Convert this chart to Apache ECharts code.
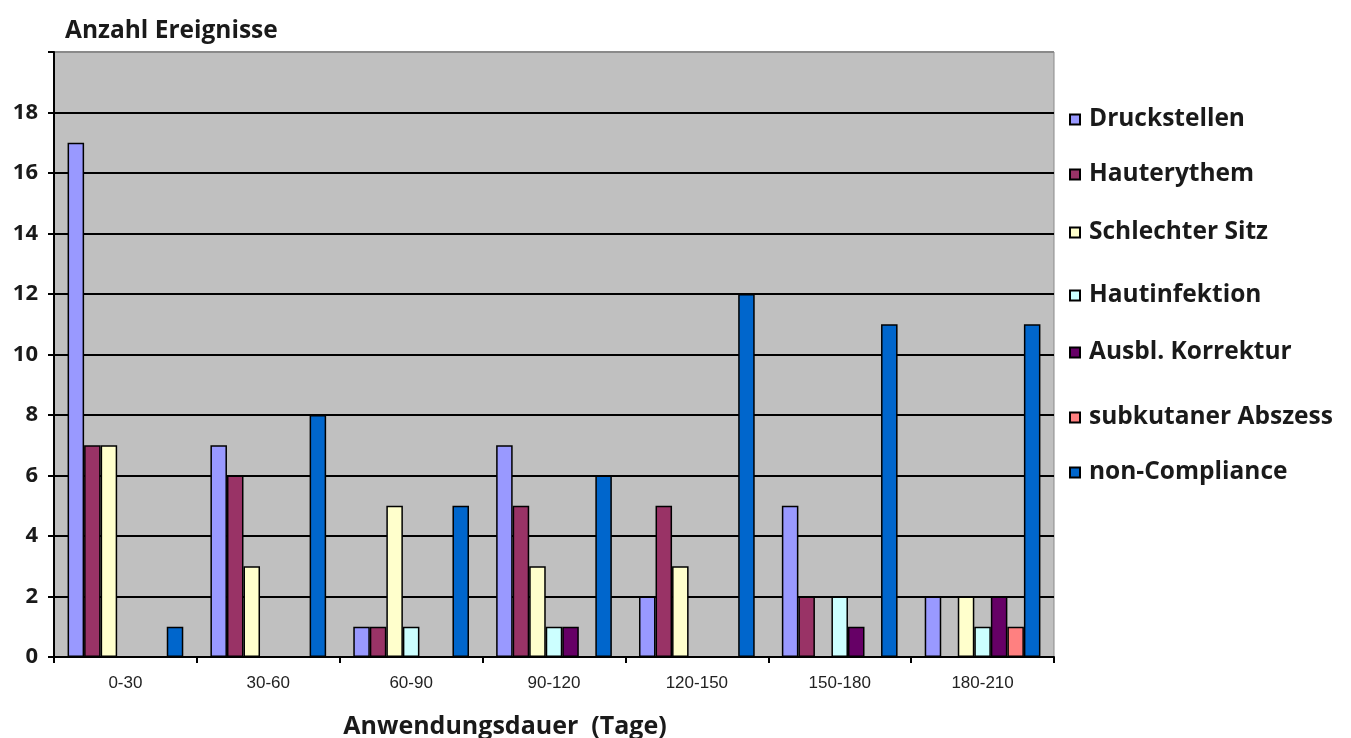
<!DOCTYPE html>
<html>
<head>
<meta charset="utf-8">
<script src="https://cdn.jsdelivr.net/npm/echarts@6/dist/echarts.min.js"></script>
<style>
  html, body { margin: 0; padding: 0; background: #ffffff; }
  #chart { width: 1351px; height: 738px; }
</style>
</head>
<body>
<div id="chart"></div>
<script>
// ---- data ----
const categories = ['0-30', '30-60', '60-90', '90-120', '120-150', '150-180', '180-210'];
const seriesNames = ['Druckstellen', 'Hauterythem', 'Schlechter Sitz', 'Hautinfektion', 'Ausbl. Korrektur', 'subkutaner Abszess', 'non-Compliance'];
const druckstellen      = [17, 7, 1, 7, 2, 5, 2];
const hauterythem       = [7, 6, 1, 5, 5, 2, 0];
const schlechterSitz    = [7, 3, 5, 3, 3, 0, 2];
const hautinfektion     = [0, 0, 1, 1, 0, 2, 1];
const ausblKorrektur    = [0, 0, 0, 1, 0, 1, 2];
const subkutanerAbszess = [0, 0, 0, 0, 0, 0, 1];
const nonCompliance     = [1, 8, 5, 6, 12, 11, 11];
const yTickLabels = ['0', '2', '4', '6', '8', '10', '12', '14', '16', '18'];

const seriesValues = [druckstellen, hauterythem, schlechterSitz, hautinfektion, ausblKorrektur, subkutanerAbszess, nonCompliance];
const colors = ['#9999FF', '#993366', '#FFFFCC', '#CCFFFF', '#660066', '#FF8080', '#0066CC'];

const legendTops = [102, 157, 215, 278, 335, 400, 455];
const FONT = 'Open Sans';

const chart = echarts.init(document.getElementById('chart'), null, { renderer: 'canvas' });

const option = {
  backgroundColor: '#ffffff',
  animation: false,
  title: {
    text: 'Anzahl Ereignisse',
    left: 60,
    top: 14,
    textStyle: { fontFamily: FONT, fontWeight: 'bold', fontSize: 24.5, color: '#1a1a1a' }
  },
  legend: seriesNames.map((n, i) => ({
    data: [n],
    orient: 'vertical',
    left: 1064,
    top: legendTops[i],
    icon: 'rect',
    itemWidth: 10,
    itemHeight: 10,
    itemGap: 0,
    selectedMode: false,
    textStyle: { fontFamily: FONT, fontWeight: 'bold', fontSize: 24.5, color: '#1a1a1a', padding: [0, 0, 0, 4] }
  })),
  grid: {
    left: 54, right: 297, top: 52, bottom: 81,
    outerBoundsMode: 'none',
    containLabel: false,
    show: true,
    backgroundColor: '#C0C0C0',
    borderColor: '#8a8a8a',
    borderWidth: 1
  },
  xAxis: {
    type: 'category',
    data: categories,
    name: 'Anwendungsdauer  (Tage)',
    nameLocation: 'middle',
    nameGap: 57,
    nameTextStyle: { fontFamily: FONT, fontWeight: 'bold', fontSize: 25, color: '#1a1a1a', padding: [0, 98, 0, 0] },
    axisLine: { show: true, lineStyle: { color: '#000', width: 2 } },
    axisTick: { show: true, alignWithLabel: false, length: 6, lineStyle: { color: '#000', width: 2 } },
    axisLabel: { fontFamily: 'Liberation Sans', fontSize: 17, color: '#222', margin: 18 },
    splitLine: { show: false }
  },
  yAxis: {
    type: 'value',
    min: 0,
    max: 20,
    interval: 2,
    axisLine: { show: true, lineStyle: { color: '#000', width: 2 } },
    axisTick: { show: true, inside: false, length: 6, lineStyle: { color: '#000', width: 2 } },
    axisLabel: {
      fontFamily: FONT, fontWeight: 'bold', fontSize: 22, color: '#1a1a1a', margin: 16,
      formatter: function (v) { const s = String(v); return yTickLabels.indexOf(s) >= 0 ? s : ''; }
    },
    splitLine: {
      show: true,
      lineStyle: { color: ['#000', '#000', '#000', '#000', '#000', '#000', '#000', '#000', '#000', '#000', '#8a8a8a'], width: 2 }
    }
  },
  series: seriesNames.map((n, i) => ({
    name: n,
    type: 'bar',
    data: seriesValues[i],
    barGap: '0%',
    barCategoryGap: '19%',
    itemStyle: { color: colors[i], borderColor: '#000', borderWidth: 1.5 }
  }))
};

chart.setOption(option);
</script>
</body>
</html>
